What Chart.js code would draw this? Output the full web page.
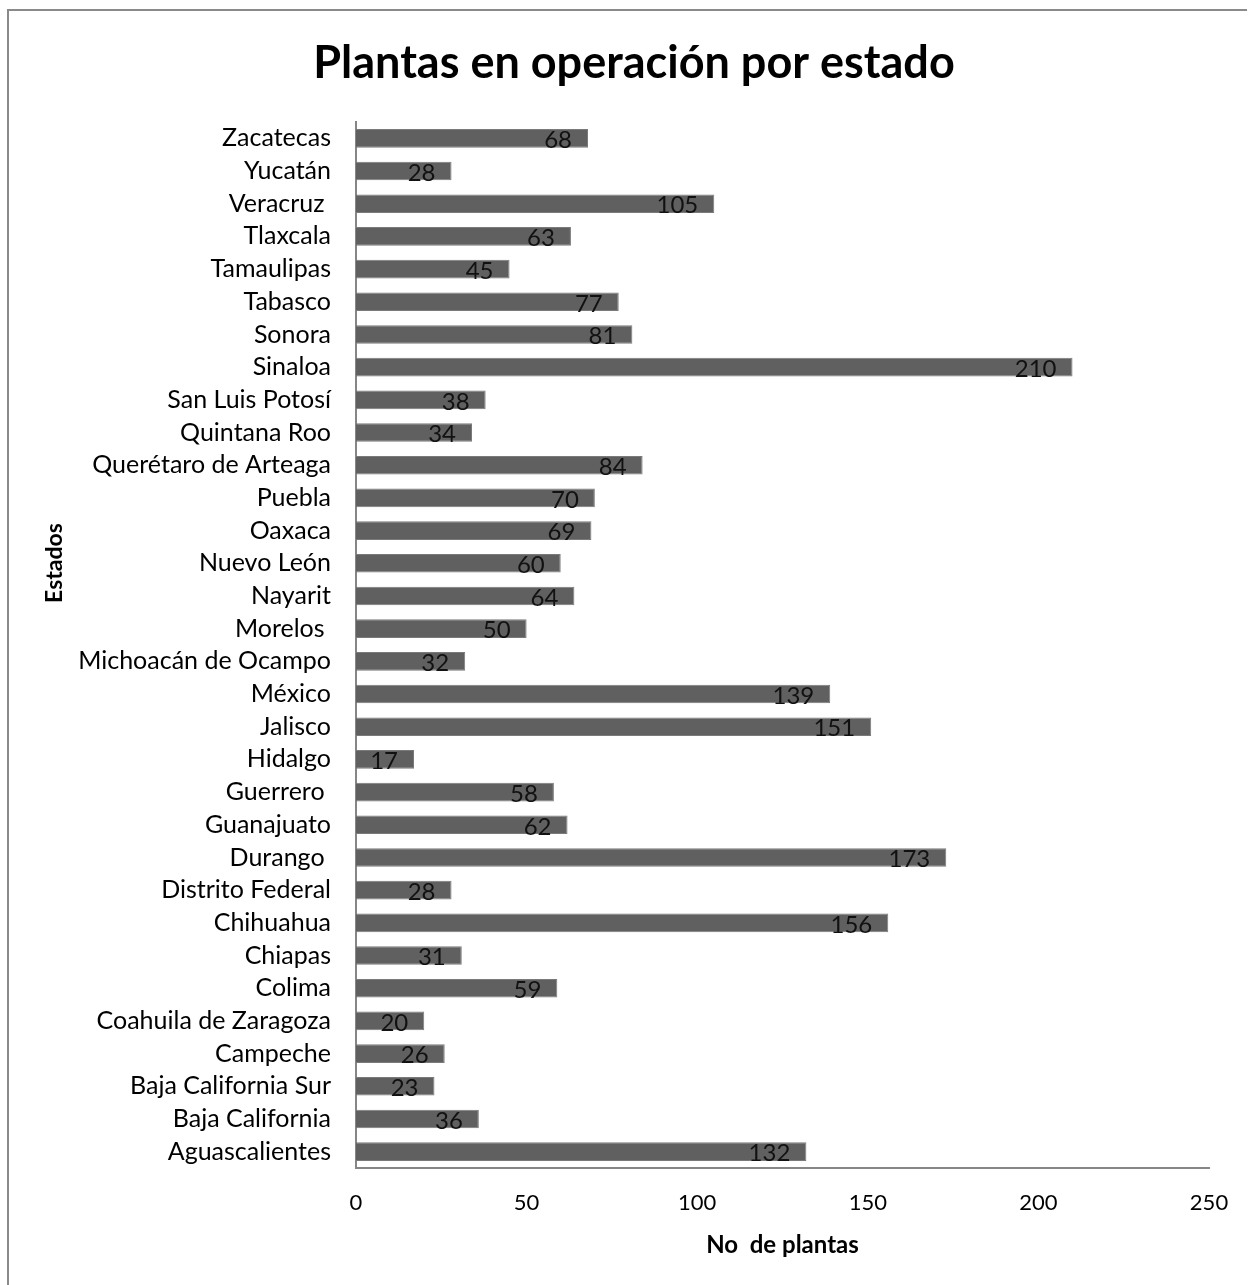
<!DOCTYPE html>
<html lang="es">
<head>
<meta charset="utf-8">
<title>Plantas en operación por estado</title>
<script src="https://cdn.jsdelivr.net/npm/chart.js@4/dist/chart.umd.min.js"></script>
<style>
  html, body { margin: 0; padding: 0; background: #ffffff; }
  #wrap { position: relative; width: 1248px; height: 1285px; }
  #frame {
    position: absolute; left: 7px; top: 9px; width: 1240px; height: 1290px;
    border-top: 2px solid #8a8a8a; border-left: 2px solid #8a8a8a;
    box-sizing: border-box; pointer-events: none;
  }
  canvas { position: absolute; left: 0; top: 0; }
</style>
</head>
<body>
<div id="wrap">
  <canvas id="chart" width="1248" height="1285"></canvas>
  <div id="frame"></div>
</div>
<script>
// Estados, de arriba hacia abajo
const estados = [
  'Zacatecas', 'Yucatán', 'Veracruz ', 'Tlaxcala', 'Tamaulipas', 'Tabasco',
  'Sonora', 'Sinaloa', 'San Luis Potosí', 'Quintana Roo', 'Querétaro de Arteaga',
  'Puebla', 'Oaxaca', 'Nuevo León', 'Nayarit', 'Morelos ', 'Michoacán de Ocampo',
  'México', 'Jalisco', 'Hidalgo', 'Guerrero ', 'Guanajuato', 'Durango ',
  'Distrito Federal', 'Chihuahua', 'Chiapas', 'Colima', 'Coahuila de Zaragoza',
  'Campeche', 'Baja California Sur', 'Baja California', 'Aguascalientes'
];

// Número de plantas en operación
const plantas = [
  68, 28, 105, 63, 45, 77,
  81, 210, 38, 34, 84,
  70, 69, 60, 64, 50, 32,
  139, 151, 17, 58, 62, 173,
  28, 156, 31, 59, 20,
  26, 23, 36, 132
];

const xMin = 0;
const xMax = 250;
const xStep = 50;

const FONT = 'Lato, "Open Sans", "DejaVu Sans", sans-serif';

// Etiquetas de valor dentro del extremo de cada barra
const valueLabels = {
  id: 'valueLabels',
  afterDatasetsDraw(chart) {
    const ctx = chart.ctx;
    const meta = chart.getDatasetMeta(0);
    const data = chart.data.datasets[0].data;
    ctx.save();
    ctx.font = '24px ' + FONT;
    ctx.fillStyle = '#111111';
    ctx.textAlign = 'right';
    ctx.textBaseline = 'middle';
    meta.data.forEach((bar, i) => {
      ctx.fillText(String(data[i]), bar.x - 16, bar.y + 2);
    });
    ctx.restore();
  }
};

// Título vertical del eje de estados, algo por encima del centro del área
const yAxisTitle = {
  id: 'yAxisTitle',
  afterDraw(chart) {
    const ctx = chart.ctx;
    const area = chart.chartArea;
    const cy = (area.top + area.bottom) / 2 - 82;
    ctx.save();
    ctx.translate(55, cy);
    ctx.rotate(-Math.PI / 2);
    ctx.font = 'bold 23px ' + FONT;
    ctx.fillStyle = '#000000';
    ctx.textAlign = 'center';
    ctx.textBaseline = 'middle';
    ctx.fillText('Estados', 0, 0);
    ctx.restore();
  }
};

new Chart(document.getElementById('chart'), {
  type: 'bar',
  data: {
    labels: estados,
    datasets: [{
      data: plantas,
      backgroundColor: '#606060',
      borderColor: '#7a7a7a',
      borderWidth: 1,
      categoryPercentage: 1.0,
      barPercentage: 0.57
    }]
  },
  options: {
    indexAxis: 'y',
    responsive: false,
    animation: false,
    layout: { padding: { top: 10, left: 20, right: 0, bottom: 0 } },
    plugins: {
      legend: { display: false },
      tooltip: { enabled: false },
      title: {
        display: true,
        text: 'Plantas en operación por estado',
        color: '#000000',
        font: { family: FONT, size: 45, weight: 'bold', lineHeight: 1.2 },
        padding: { top: 26, bottom: 32 }
      }
    },
    scales: {
      x: {
        type: 'linear',
        min: xMin,
        max: xMax,
        ticks: {
          stepSize: xStep,
          color: '#000000',
          font: { family: FONT, size: 22 },
          padding: 22
        },
        grid: { display: false, drawTicks: false },
        border: { display: true, color: '#868686', width: 2 },
        title: {
          display: true,
          text: 'No  de plantas',
          color: '#000000',
          font: { family: FONT, size: 24, weight: 'bold', lineHeight: 1.2 },
          padding: { top: 4, bottom: 25 }
        },
        afterFit(scale) {
          scale.height = 117;
          scale.paddingLeft = 0;
          scale.paddingRight = 39;
        }
      },
      y: {
        type: 'category',
        ticks: {
          color: '#000000',
          font: { family: FONT, size: 25 },
          padding: 25,
          autoSkip: false
        },
        grid: { display: false, drawTicks: false },
        border: { display: true, color: '#868686', width: 2 },
        title: { display: false },
        afterFit(scale) {
          scale.width = 336;
          scale.paddingTop = 0;
          scale.paddingBottom = 0;
        }
      }
    }
  },
  plugins: [valueLabels, yAxisTitle]
});
</script>
</body>
</html>
